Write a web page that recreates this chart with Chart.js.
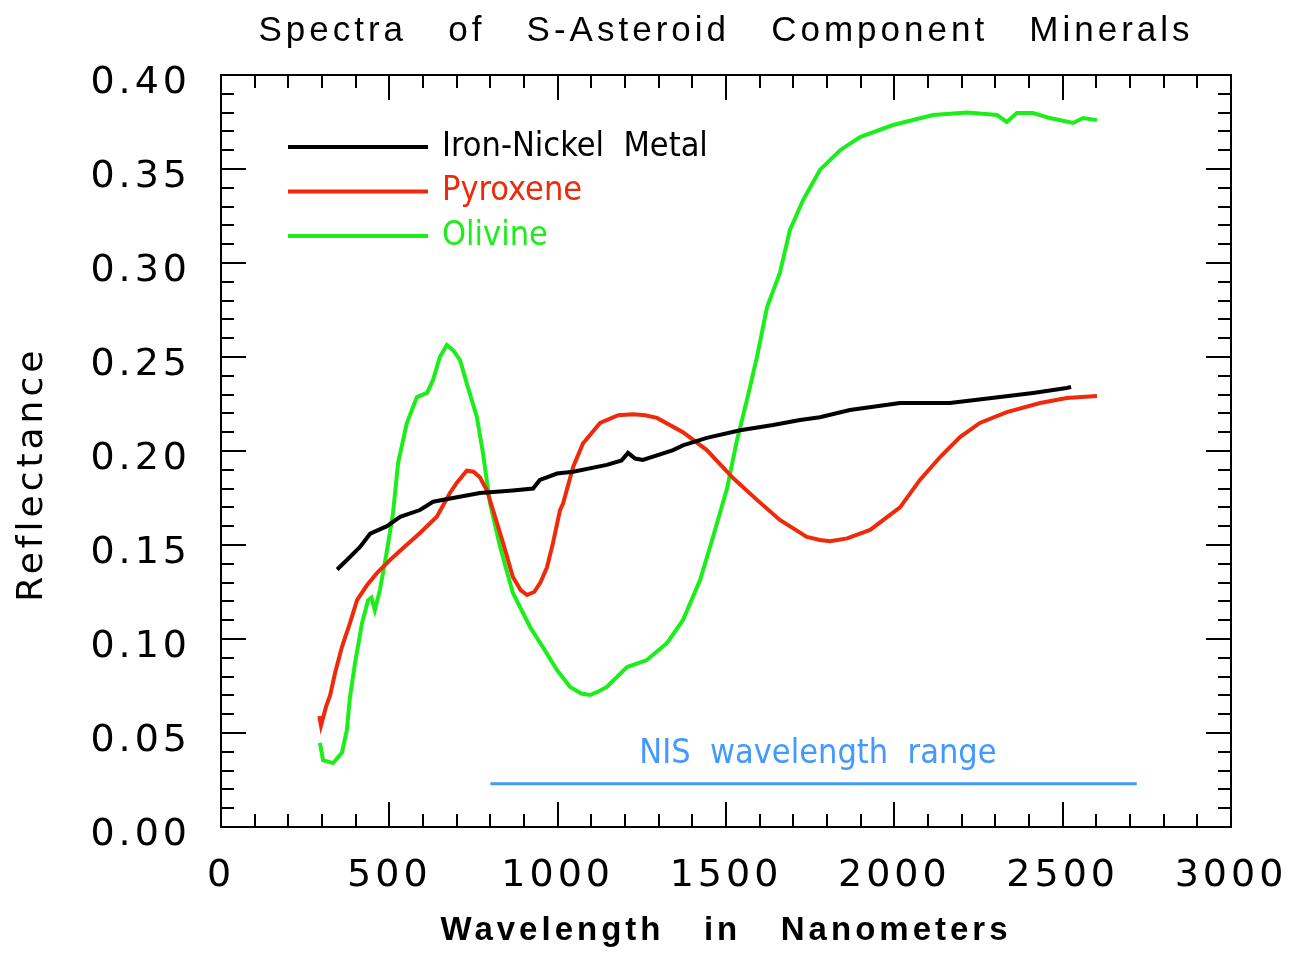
<!DOCTYPE html>
<html>
<head>
<meta charset="utf-8">
<title>Spectra of S-Asteroid Component Minerals</title>
<script src="https://cdn.jsdelivr.net/npm/chart.js@4.4.1/dist/chart.umd.min.js"></script>
<style>
  html, body { margin: 0; padding: 0; background: #ffffff; }
  canvas { display: block; }
</style>
</head>
<body>
<canvas id="spectra" width="1297" height="953"></canvas>
<script>
// Laboratory reflectance spectra (wavelength in nm, reflectance 0..1)
const metalWavelength = [345, 374, 413, 443, 493, 532, 591, 630, 689, 769, 867, 927, 947, 968, 998, 1046, 1146, 1190, 1209, 1230, 1253, 1343, 1372, 1443, 1542, 1640, 1720, 1779, 1868, 2017, 2165, 2314, 2412, 2512, 2525];
const metalReflectance = [0.137, 0.142, 0.149, 0.156, 0.160, 0.165, 0.1686, 0.173, 0.175, 0.1777, 0.179, 0.180, 0.1846, 0.186, 0.188, 0.189, 0.1926, 0.195, 0.199, 0.196, 0.1952, 0.2005, 0.203, 0.207, 0.211, 0.2138, 0.2165, 0.218, 0.2218, 0.2255, 0.2255, 0.2287, 0.2309, 0.2335, 0.234];

const pyroxeneWavelength = [292, 297, 312, 324, 339, 359, 383, 404, 434, 463, 502, 541, 591, 641, 680, 700, 730, 750, 769, 790, 808, 838, 867, 890, 909, 930, 948, 968, 986, 1007, 1016, 1046, 1075, 1126, 1180, 1224, 1260, 1295, 1372, 1443, 1521, 1592, 1660, 1740, 1779, 1809, 1860, 1928, 2017, 2076, 2136, 2195, 2254, 2334, 2433, 2512, 2602];
const pyroxeneReflectance = [0.059, 0.054, 0.064, 0.070, 0.082, 0.0957, 0.1085, 0.1207, 0.1287, 0.135, 0.142, 0.1484, 0.1564, 0.165, 0.1777, 0.183, 0.1895, 0.189, 0.186, 0.179, 0.1686, 0.151, 0.133, 0.126, 0.1234, 0.125, 0.1298, 0.138, 0.151, 0.1686, 0.172, 0.1915, 0.204, 0.2149, 0.219, 0.2195, 0.219, 0.2176, 0.210, 0.2005, 0.1856, 0.174, 0.1633, 0.1543, 0.1527, 0.152, 0.1535, 0.158, 0.170, 0.1846, 0.1968, 0.2074, 0.2149, 0.2207, 0.2255, 0.2282, 0.2293];

const olivineWavelength = [294, 303, 333, 359, 374, 383, 398, 419, 437, 447, 457, 472, 493, 511, 526, 552, 582, 612, 630, 650, 671, 690, 710, 730, 760, 778, 799, 829, 867, 918, 956, 998, 1037, 1070, 1096, 1120, 1146, 1206, 1265, 1325, 1372, 1423, 1461, 1503, 1533, 1562, 1592, 1622, 1660, 1690, 1729, 1779, 1839, 1898, 1996, 2115, 2216, 2305, 2334, 2364, 2412, 2462, 2531, 2561, 2602];
const olivineReflectance = [0.0447, 0.0356, 0.034, 0.0394, 0.0516, 0.069, 0.087, 0.1085, 0.1207, 0.122, 0.1154, 0.126, 0.147, 0.167, 0.1936, 0.2149, 0.2287, 0.2309, 0.2378, 0.25, 0.2564, 0.2535, 0.2484, 0.236, 0.2181, 0.199, 0.1723, 0.149, 0.1245, 0.1064, 0.0957, 0.0835, 0.0745, 0.071, 0.0702, 0.072, 0.0745, 0.0851, 0.0888, 0.0979, 0.110, 0.1314, 0.154, 0.180, 0.206, 0.227, 0.25, 0.2766, 0.2947, 0.3176, 0.3335, 0.3495, 0.360, 0.367, 0.3734, 0.3787, 0.380, 0.3787, 0.375, 0.3798, 0.3798, 0.3771, 0.3745, 0.3771, 0.376];

// Spectral coverage of the NEAR Infrared Spectrometer
const nisWavelength = [800, 2720];
const nisLevel = [0.023, 0.023];

const seriesNames = ['Iron-Nickel  Metal', 'Pyroxene', 'Olivine'];
const rangeName = 'NIS  wavelength  range';

const xTickStep = 500, xMinorStep = 100, xMin = 0, xMax = 3000;
const yTickStep = 0.05, yMinorStep = 0.01, yMin = 0, yMax = 0.40;

const toPoints = (xs, ys) => xs.map((x, i) => ({ x, y: ys[i] }));

const SPACING = '4px';

// Wide letter spacing for the axis lettering
const letterSpacingPlugin = {
  id: 'letterSpacing',
  beforeUpdate(chart) { chart.ctx.letterSpacing = SPACING; },
  beforeDraw(chart) { chart.ctx.letterSpacing = SPACING; }
};

// Closed frame with inward major/minor tick marks on all four sides
const frameTicksPlugin = {
  id: 'frameTicks',
  beforeDatasetsDraw(chart) {
    const { ctx, chartArea: { left, right, top, bottom }, scales: { x, y } } = chart;
    ctx.save();
    ctx.strokeStyle = '#000';
    ctx.lineWidth = 2;
    ctx.lineCap = 'butt';
    ctx.strokeRect(left, top, right - left, bottom - top);
    ctx.beginPath();
    const nx = Math.round((xMax - xMin) / xMinorStep);
    for (let i = 0; i <= nx; i++) {
      const v = xMin + i * xMinorStep;
      const px = Math.round(x.getPixelForValue(v));
      const len = (i % Math.round(xTickStep / xMinorStep) === 0) ? 25 : 13;
      ctx.moveTo(px, bottom); ctx.lineTo(px, bottom - len);
      ctx.moveTo(px, top); ctx.lineTo(px, top + len);
    }
    const ny = Math.round((yMax - yMin) / yMinorStep);
    for (let i = 0; i <= ny; i++) {
      const v = yMin + i * yMinorStep;
      const py = Math.round(y.getPixelForValue(v));
      const len = (i % Math.round(yTickStep / yMinorStep) === 0) ? 25 : 13;
      ctx.moveTo(left, py); ctx.lineTo(left + len, py);
      ctx.moveTo(right, py); ctx.lineTo(right - len, py);
    }
    ctx.stroke();
    ctx.restore();
  }
};

// In-plot key for the mineral spectra and the label of the NIS bar
const annotationPlugin = {
  id: 'plotNotes',
  afterDatasetsDraw(chart, args, opts) {
    const { ctx, chartArea: { left, top }, scales: { x, y } } = chart;
    ctx.save();
    ctx.letterSpacing = '0px';
    ctx.font = opts.font;
    ctx.textBaseline = 'middle';
    ctx.textAlign = 'left';
    chart.data.datasets.forEach((ds, i) => {
      if (ds.keyed === false) return;
      const yy = top + opts.keyTop + i * opts.keyGap;
      ctx.strokeStyle = ds.borderColor;
      ctx.lineWidth = 4;
      ctx.beginPath();
      ctx.moveTo(left + opts.keyLineStart, yy);
      ctx.lineTo(left + opts.keyLineEnd, yy);
      ctx.stroke();
      ctx.fillStyle = ds.borderColor;
      ctx.fillText(ds.label, left + opts.keyTextStart, yy);
    });
    const nis = chart.data.datasets.find(d => d.keyed === false);
    if (nis) {
      ctx.fillStyle = nis.borderColor;
      ctx.textAlign = 'center';
      ctx.fillText(nis.label, x.getPixelForValue(opts.rangeLabelX), y.getPixelForValue(opts.rangeLabelY));
    }
    ctx.restore();
  }
};

const axisFont = { family: "'DejaVu Sans', sans-serif", size: 38, weight: 'normal' };

new Chart(document.getElementById('spectra'), {
  type: 'line',
  data: {
    datasets: [
      { label: seriesNames[0], data: toPoints(metalWavelength, metalReflectance), borderColor: '#000000', borderWidth: 4 },
      { label: seriesNames[1], data: toPoints(pyroxeneWavelength, pyroxeneReflectance), borderColor: '#ee2a0a', borderWidth: 4 },
      { label: seriesNames[2], data: toPoints(olivineWavelength, olivineReflectance), borderColor: '#1bee1b', borderWidth: 4 },
      { label: rangeName, data: toPoints(nisWavelength, nisLevel), borderColor: '#4499ff', borderWidth: 3, keyed: false }
    ]
  },
  options: {
    responsive: false,
    animation: false,
    events: [],
    elements: {
      point: { radius: 0 },
      line: { tension: 0, borderCapStyle: 'butt', borderJoinStyle: 'miter' }
    },
    layout: { padding: { left: 0, right: 66, top: 0, bottom: 0 } },
    scales: {
      x: {
        type: 'linear',
        min: xMin, max: xMax,
        grid: { display: false, drawTicks: false },
        border: { display: false },
        ticks: {
          stepSize: xTickStep,
          color: '#000',
          font: axisFont,
          padding: 26,
          maxRotation: 0,
          callback: v => String(v)
        },
        title: {
          display: true,
          text: 'Wavelength   in   Nanometers',
          color: '#000',
          font: { family: "'Liberation Sans', Arial, sans-serif", size: 33, weight: 'bold' },
          padding: { top: 0, bottom: 2 }
        },
        afterFit(scale) {
          scale.height = 126;
          scale.paddingLeft = 0;
          scale.paddingRight = 0;
        }
      },
      y: {
        type: 'linear',
        min: yMin, max: yMax,
        grid: { display: false, drawTicks: false },
        border: { display: false },
        ticks: {
          stepSize: yTickStep,
          color: '#000',
          font: axisFont,
          padding: 30,
          labelOffset: 8,
          callback: v => Number(v).toFixed(2)
        },
        title: {
          display: true,
          text: 'Reflectance   ',
          color: '#000',
          font: { family: "'DejaVu Sans', sans-serif", size: 36, weight: 'normal' },
          padding: { top: 11, bottom: 0 }
        },
        afterFit(scale) {
          scale.width = 221;
          scale.paddingTop = 0;
          scale.paddingBottom = 0;
        }
      }
    },
    plugins: {
      legend: { display: false },
      tooltip: { enabled: false },
      title: {
        display: true,
        fullSize: false,
        text: 'Spectra   of   S-Asteroid   Component   Minerals',
        color: '#000',
        font: { family: "'Liberation Sans', Arial, sans-serif", size: 35, weight: 'normal', lineHeight: 1.2 },
        padding: { top: 10, bottom: 23 }
      },
      plotNotes: {
        font: "34px 'DejaVu Sans Condensed', 'DejaVu Sans', sans-serif",
        keyTop: 72, keyGap: 44.5,
        keyLineStart: 67, keyLineEnd: 207, keyTextStart: 221,
        rangeLabelX: 1773, rangeLabelY: 0.0385
      }
    }
  },
  plugins: [letterSpacingPlugin, frameTicksPlugin, annotationPlugin]
});
</script>
</body>
</html>
